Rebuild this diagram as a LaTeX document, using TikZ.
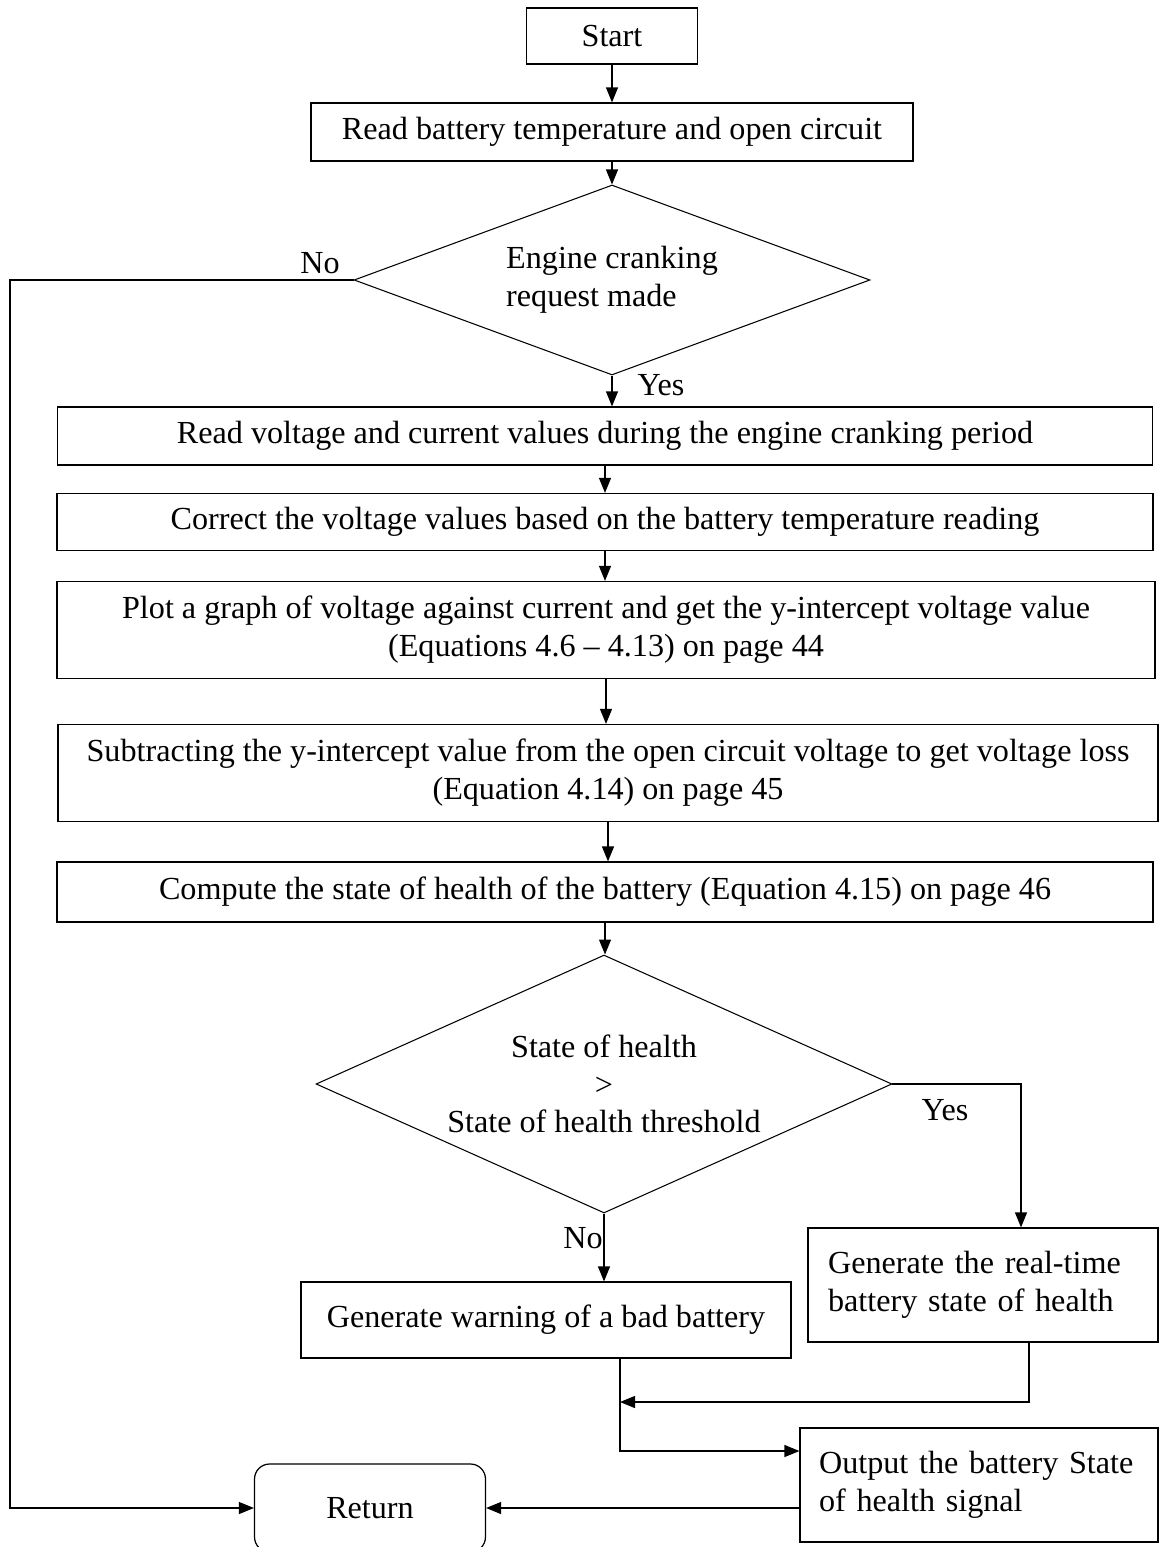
\documentclass[tikz,border=0pt]{standalone}
\usepackage{fontspec}
\setmainfont{Liberation Serif}
\usetikzlibrary{
  arrows.meta,
  positioning,
  shapes.geometric,
  calc
}

\begin{document}
\begin{tikzpicture}[x=0.02cm, y=-0.02cm,
  font=\fontsize{18.3}{21.5}\selectfont,
  procbox/.style={draw, rectangle, line width=0.7pt, inner sep=0pt, align=center},
  sidebox/.style={draw, rectangle, line width=0.7pt, inner ysep=0pt, align=left},
  decision/.style={draw, diamond, line width=0.6pt, inner sep=0pt},
  arr/.style={line width=0.7pt, -{Triangle[length=0.3cm, width=0.24cm]}},
  lbl/.style={inner sep=0pt}]
  \clip (0,0) rectangle (1159,1547);

  % Main column
  \node[procbox, minimum width=3.42cm, minimum height=1.12cm] (start) at (612,36) {Start};
  \node[procbox, minimum width=12.04cm, minimum height=1.16cm] (readtemp) at (612,132)
    {Read battery temperature and open circuit};
  \node[decision, shape aspect=2.7, minimum width=10.32cm, minimum height=3.8cm,
        align=left] (crank) at (612,280) {Engine cranking\\request made};
  \node[procbox, minimum width=21.9cm, minimum height=1.16cm] (readvolt) at (605,436)
    {Read voltage and current values during the engine cranking period};
  \node[procbox, minimum width=21.92cm, minimum height=1.14cm] (correct) at (605,522)
    {Correct the voltage values based on the battery temperature reading};
  \node[procbox, minimum width=21.96cm, minimum height=1.94cm] (plot) at (606,630)
    {Plot a graph of voltage against current and get the y-intercept voltage value\\
     (Equations 4.6 -- 4.13) on page 44};
  \node[procbox, minimum width=22cm, minimum height=1.94cm] (subtract) at (608,773)
    {Subtracting the y-intercept value from the open circuit voltage to get voltage loss\\
     (Equation 4.14) on page 45};
  \node[procbox, minimum width=21.92cm, minimum height=1.2cm] (compute) at (605,892)
    {Compute the state of health of the battery (Equation 4.15) on page 46};
  \node[decision, shape aspect=2.25, minimum width=11.52cm, minimum height=5.16cm,
        align=center] (sohcheck) at (604,1084)
    {State of health\\>\\State of health threshold};

  % Branch outcomes
  \node[sidebox, minimum width=7cm, minimum height=2.28cm, inner xsep=0.4cm,
        text width=6.2cm] (realtime) at (983,1285)
    {Generate the real-time\\battery state of health};
  \node[procbox, minimum width=9.8cm, minimum height=1.52cm] (warning) at (546,1320)
    {Generate warning of a bad battery};
  \node[sidebox, minimum width=7.16cm, minimum height=2.28cm, inner xsep=0.38cm,
        text width=6.4cm] (output) at (979,1485)
    {Output the battery State\\of health signal};
  \node[procbox, rounded corners=0.3cm, minimum width=4.62cm, minimum height=1.76cm]
    (return) at (370,1508) {Return};

  % Labels
  \node[lbl] (nocrank) at (320,263) {No};
  \node[lbl] (yescrank) at (661,385) {Yes};
  \node[lbl] (yessoh) at (945,1110) {Yes};
  \node[lbl] (nosoh) at (583,1238) {No};

  % Bend points
  \coordinate (noleft) at (10,280);
  \coordinate (yesturn) at (1021,1084);
  \coordinate (rtdrop) at (1029,1402);
  \coordinate (merge) at (620,1402);
  \coordinate (joinout) at (620,1451);

  % Connectors
  \draw[arr] (start) -- (start |- readtemp.north);
  \draw[arr] (readtemp) -- (readtemp |- crank.north);
  \draw[arr] (crank) -- (crank |- readvolt.north);
  \draw[arr] (readvolt) -- (readvolt |- correct.north);
  \draw[arr] (correct) -- (correct |- plot.north);
  \draw[arr] (plot) -- (plot |- subtract.north);
  \draw[arr] (subtract) -- (subtract |- compute.north);
  \draw[arr] (compute) -- (compute |- sohcheck.north);
  \draw[arr] (sohcheck.east) -- (yesturn) -- (yesturn |- realtime.north);
  \draw[arr] (sohcheck) -- (sohcheck |- warning.north);
  \draw[arr] (rtdrop |- realtime.south) -- (rtdrop) -- (merge);
  \draw[arr] (merge |- warning.south) -- (joinout) -- (joinout -| output.west);
  \draw[arr] (output.west |- return.east) -- (return.east);
  \draw[arr] (crank.west) -- (noleft) -- (noleft |- return.west) -- (return.west);
\end{tikzpicture}
\end{document}
